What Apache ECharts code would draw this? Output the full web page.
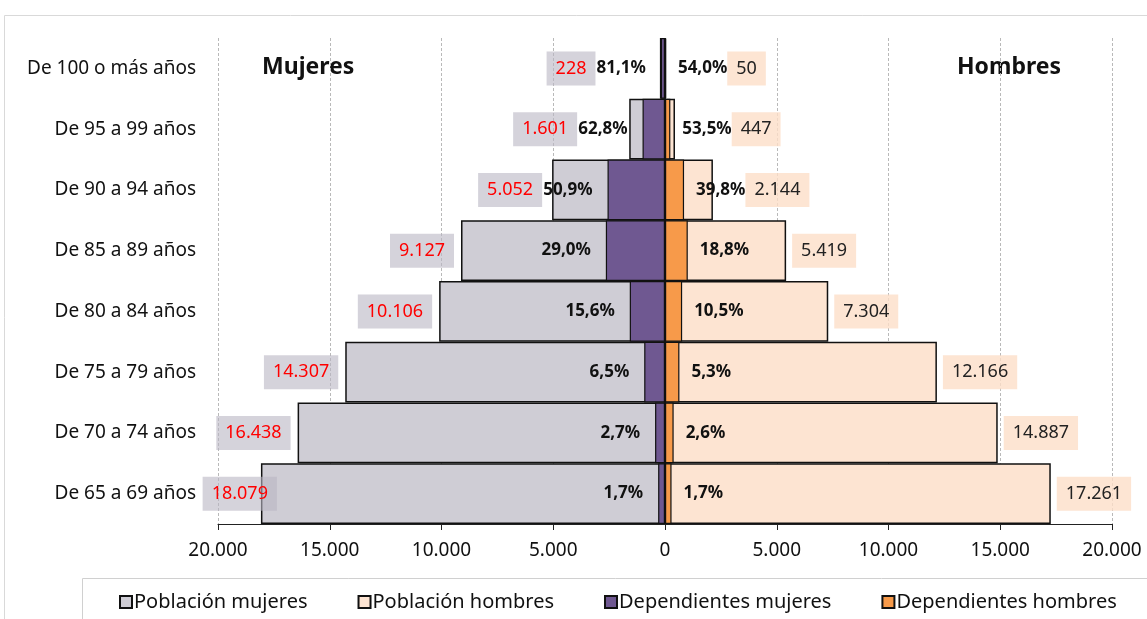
<!DOCTYPE html>
<html>
<head>
<meta charset="utf-8">
<script src="https://cdn.jsdelivr.net/npm/echarts@6/dist/echarts.min.js"></script>
<style>
  html, body { margin: 0; padding: 0; background: #fff; }
  #chart { width: 1147px; height: 619px; }
</style>
</head>
<body>
<div id="chart"></div>
<script>
const categories = ['De 65 a 69 años', 'De 70 a 74 años', 'De 75 a 79 años', 'De 80 a 84 años',
  'De 85 a 89 años', 'De 90 a 94 años', 'De 95 a 99 años', 'De 100 o más años']
const popWomen = [18079, 16438, 14307, 10106, 9127, 5052, 1601, 228]
const popMen = [17261, 14887, 12166, 7304, 5419, 2144, 447, 50]
const depWomen = [307, 444, 930, 1577, 2647, 2572, 1005, 185]
const depMen = [293, 387, 645, 767, 1019, 853, 239, 27]
const pctWomen = ['1,7%', '2,7%', '6,5%', '15,6%', '29,0%', '50,9%', '62,8%', '81,1%']
const pctMen = ['1,7%', '2,6%', '5,3%', '10,5%', '18,8%', '39,8%', '53,5%', '54,0%']
const xTicks = [-20000, -15000, -10000, -5000, 0, 5000, 10000, 15000, 20000]

const FONT = 'Noto Sans'
const grey = '#cfcdd5'
const peach = '#fde4d2'
const purple = '#6f5891'
const orange = '#f79a4a'

// miles con punto: 18079 -> 18.079
const fmt = v => String(Math.abs(v)).replace(/\B(?=(\d{3})+(?!\d))/g, '.')

// cuando la barra de población es corta, la cifra va pegada al porcentaje
const joinedW = i => popWomen[i] - depWomen[i] < 4000
const joinedM = i => popMen[i] - depMen[i] < 4000

const numBoxW = { color: '#ff0000', backgroundColor: 'rgba(185,181,195,0.6)', padding: [8, 9], fontSize: 18, fontFamily: FONT }
const numBoxM = { color: '#222', backgroundColor: 'rgba(252,222,200,0.8)', padding: [8, 9], fontSize: 18, fontFamily: FONT }
const pctStyle = { color: '#111', fontWeight: 'bold', fontSize: 17, fontFamily: FONT }

const chart = echarts.init(document.getElementById('chart'))

const option = {
  animation: false,
  textStyle: { fontFamily: FONT },
  grid: { left: 218, right: 35, top: 38, bottom: 95 },
  xAxis: {
    type: 'value',
    min: -20000,
    max: 20000,
    interval: 5000,
    axisLine: { show: true, onZero: false, lineStyle: { color: '#222', width: 1 } },
    axisTick: { show: true, length: 6, lineStyle: { color: '#222' } },
    axisLabel: {
      color: '#111', fontSize: 19, margin: 17, fontFamily: FONT,
      formatter: v => xTicks.includes(v) ? fmt(v) : ''
    },
    splitLine: { show: true, lineStyle: { color: '#b9b9b9', type: [3, 2] } }
  },
  yAxis: {
    type: 'category',
    data: categories,
    axisLine: { show: false },
    axisTick: { show: false },
    axisLabel: { color: '#111', fontSize: 19, margin: 22, fontFamily: FONT }
  },
  legend: {
    left: 114,
    top: 587,
    icon: 'rect',
    itemWidth: 12,
    itemHeight: 12,
    itemGap: 50,
    textStyle: { color: '#111', fontSize: 20, fontFamily: FONT, padding: [0, 0, 0, -3] },
    data: ['Población mujeres', 'Población hombres', 'Dependientes mujeres', 'Dependientes hombres']
  },
  graphic: [
    { type: 'rect', shape: { x: 4.5, y: 15.5, width: 1160, height: 620 }, style: { fill: 'none', stroke: '#d9d9d9', lineWidth: 1 } },
    { type: 'rect', shape: { x: 82.5, y: 578.5, width: 1080, height: 50 }, style: { fill: 'none', stroke: '#d0d0d0', lineWidth: 1 } },
    { type: 'text', left: 262, top: 56, style: { text: 'Mujeres', fontSize: 23, fontWeight: 'bold', fill: '#111', fontFamily: FONT } },
    { type: 'text', left: 957, top: 56, style: { text: 'Hombres', fontSize: 23, fontWeight: 'bold', fill: '#111', fontFamily: FONT } }
  ],
  series: [
    {
      name: 'Población mujeres',
      type: 'bar',
      barGap: '-100%',
      barCategoryGap: 0,
      itemStyle: { color: grey, borderColor: '#111', borderWidth: 1.5 },
      label: {
        show: true, position: 'left', distance: 7,
        formatter: p => fmt(popWomen[p.dataIndex]), ...numBoxW
      },
      // la etiqueta de la barra más larga se monta sobre su extremo
      data: popWomen.map((v, i) => ({
        value: -v,
        label: { show: !joinedW(i), distance: v > 17500 ? -16 : 7 }
      }))
    },
    {
      name: 'Población hombres',
      type: 'bar',
      barGap: '-100%',
      barCategoryGap: 0,
      itemStyle: { color: peach, borderColor: '#111', borderWidth: 1.5 },
      label: {
        show: true, position: 'right', distance: 6,
        formatter: p => fmt(popMen[p.dataIndex]), ...numBoxM
      },
      data: popMen.map((v, i) => ({ value: v, label: { show: !joinedM(i) } }))
    },
    {
      name: 'Dependientes mujeres',
      type: 'bar',
      barGap: '-100%',
      barCategoryGap: 0,
      itemStyle: { color: purple, borderColor: '#111', borderWidth: 1.2 },
      label: {
        show: true, position: 'left', distance: 15,
        formatter: p => {
          const i = p.dataIndex
          return joinedW(i)
            ? '{num|' + fmt(popWomen[i]) + '}{sp| }{pct|' + pctWomen[i] + '}'
            : '{pct|' + pctWomen[i] + '}'
        },
        rich: { num: numBoxW, pct: pctStyle, sp: { fontSize: 4 } }
      },
      data: depWomen.map(v => -v),
      markLine: {
        silent: true,
        symbol: 'none',
        label: { show: false },
        lineStyle: { color: '#111', width: 1.5, type: 'solid' },
        data: [{ xAxis: 0 }]
      }
    },
    {
      name: 'Dependientes hombres',
      type: 'bar',
      barGap: '-100%',
      barCategoryGap: 0,
      itemStyle: { color: orange, borderColor: '#111', borderWidth: 1.2 },
      label: {
        show: true, position: 'right', distance: 12,
        formatter: p => {
          const i = p.dataIndex
          return joinedM(i)
            ? '{pct|' + pctMen[i] + '}{num|' + fmt(popMen[i]) + '}'
            : '{pct|' + pctMen[i] + '}'
        },
        rich: { num: numBoxM, pct: pctStyle }
      },
      data: depMen
    }
  ]
}

chart.setOption(option)
</script>
</body>
</html>
